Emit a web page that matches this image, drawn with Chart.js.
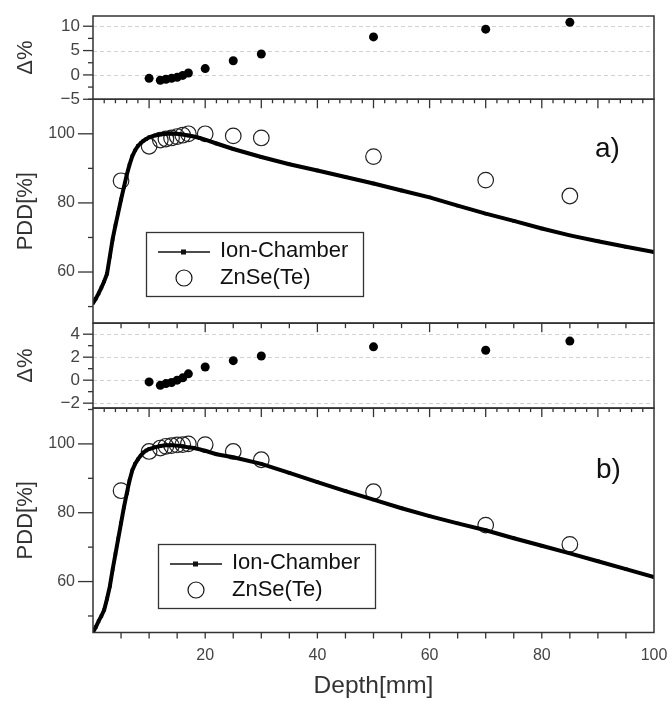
<!DOCTYPE html>
<html>
<head>
<meta charset="utf-8">
<script src="https://cdn.jsdelivr.net/npm/chart.js@4/dist/chart.umd.min.js"></script>
<style>
  html, body { margin: 0; padding: 0; background: #fff; }
  #wrap { position: relative; width: 672px; height: 701px; }
</style>
</head>
<body>
<div id="wrap"><canvas id="pdd"></canvas></div>
<script>
// --- data ---
const seriesNames = ['Ion-Chamber', 'ZnSe(Te)'];
const panelLabels = ['a)', 'b)'];

// ion chamber depth dose curves
const icDepth = [0, 0.5, 1, 1.5, 2, 2.5, 3, 3.5, 4, 4.5, 5, 5.5, 6, 6.5, 7, 7.5, 8, 8.5, 9, 9.5, 10,
                 11, 12, 13, 14, 15, 16, 17, 18, 19, 20,
                 22, 25, 30, 35, 40, 45, 50, 55, 60, 65, 70, 75, 80, 85, 90, 95, 100];
const icA = [51, 52.3, 53.8, 55.5, 57.3, 59.5, 64.5, 69.5, 73.5, 77.2, 81, 84.5, 88, 91, 93.5, 95.2, 96.5, 97.3, 98, 98.5, 99,
             99.5, 99.8, 100, 100.1, 100, 99.8, 99.5, 99.2, 98.8, 98.3,
             97.2, 95.6, 93.3, 91.2, 89.4, 87.5, 85.6, 83.6, 81.6, 79.2, 76.9, 74.8, 72.6, 70.6, 68.9, 67.3, 65.8];
const icB = [45.3, 46.8, 48.5, 50, 51.8, 55, 58.6, 63.5, 68, 72.5, 77, 81.5, 85.5, 89.3, 92.3, 94.2, 95.5, 96.6, 97.5, 98.1, 98.5,
             99, 99.4, 99.6, 99.6, 99.5, 99.3, 99, 98.8, 98.4, 98,
             97, 96.1, 94.2, 91.6, 88.9, 86.3, 83.8, 81.3, 79, 76.9, 74.9, 72.6, 70.4, 68.2, 65.9, 63.6, 61.3];

// ZnSe(Te) detector
const znDepth = [5, 10, 12, 13, 14, 15, 16, 17, 20, 25, 30, 50, 70, 85];
const znA = [86.4, 96.4, 98.2, 98.5, 98.8, 99.2, 99.6, 100, 100, 99.4, 98.8, 93.4, 86.6, 82.0];
const znB = [86.4, 97.8, 98.8, 99.3, 99.5, 99.7, 99.8, 100, 99.8, 97.8, 95.4, 86.1, 76.4, 70.8];

// relative differences
const deltaDepth = [10, 12, 13, 14, 15, 16, 17, 20, 25, 30, 50, 70, 85];
const deltaA = [-0.7, -1.1, -0.9, -0.7, -0.5, -0.1, 0.4, 1.3, 2.9, 4.3, 7.8, 9.4, 10.8];
const deltaB = [-0.15, -0.45, -0.3, -0.2, 0.0, 0.2, 0.55, 1.15, 1.7, 2.1, 2.9, 2.6, 3.4];

// tick labels
const xTicks = [20, 40, 60, 80, 100];
const deltaATicks = [-5, 0, 5, 10];
const deltaBTicks = [-2, 0, 2, 4];
const pddTicks = [60, 80, 100];

const FONT = '"Liberation Sans", Arial, sans-serif';

function pts(xs, ys) {
    return xs.map((x, i) => ({ x: x, y: ys[i] }));
}

function fmt(v) {
    return v < 0 ? '\u2212' + Math.abs(v) : String(v);
}

function yScale(min, max, weight, labels, title, pad, size) {
    return {
        type: 'linear', position: 'left', stack: 'panels', stackWeight: weight,
        min: min, max: max,
        grid: { display: false, drawTicks: false },
        border: { display: false },
        afterBuildTicks: s => { s.ticks = labels.map(v => ({ value: v })); },
        ticks: { autoSkip: false, padding: pad, color: '#444', font: { size: size, family: FONT }, callback: v => fmt(v) },
        title: { display: true, text: title, color: '#333', font: { size: 22, family: FONT }, padding: { top: 13, bottom: 0 } },
        afterFit: s => { s.width = 93; s.paddingTop = 0; s.paddingBottom = 0; }
    };
}

// minor/major tick spec for the frame plugin
const yTickSpec = {
    yDA: { minor: 2.5, major: deltaATicks, len: 10 },
    yPA: { minor: 10, major: pddTicks, len: 15 },
    yDB: { minor: 1, major: deltaBTicks, len: 10 },
    yPB: { minor: 10, major: pddTicks, len: 15 }
};

function drawLegend(ctx, left, top) {
    ctx.save();
    ctx.strokeStyle = '#333';
    ctx.lineWidth = 1.3;
    ctx.strokeRect(left + 0.5, top + 0.5, 217, 64);
    ctx.strokeStyle = '#111';
    ctx.lineWidth = 1.5;
    ctx.beginPath();
    ctx.moveTo(left + 12, top + 20);
    ctx.lineTo(left + 64, top + 20);
    ctx.stroke();
    ctx.fillStyle = '#111';
    ctx.fillRect(left + 35, top + 17.5, 5, 5);
    ctx.lineWidth = 1.2;
    ctx.beginPath();
    ctx.arc(left + 38, top + 46, 8, 0, Math.PI * 2);
    ctx.stroke();
    ctx.font = '22px ' + FONT;
    ctx.textBaseline = 'middle';
    ctx.fillText(seriesNames[0], left + 74, top + 19);
    ctx.fillText(seriesNames[1], left + 74, top + 46);
    ctx.restore();
}

const framePlugin = {
    id: 'frame',
    beforeDatasetsDraw(chart) {
        const ctx = chart.ctx, a = chart.chartArea;
        ctx.save();
        ctx.strokeStyle = '#d2d2d2';
        ctx.lineWidth = 1;
        ctx.setLineDash([4, 3]);
        [['yDA', deltaATicks], ['yDB', deltaBTicks]].forEach(([id, ticks]) => {
            const s = chart.scales[id];
            ticks.forEach(v => {
                const y = Math.round(s.getPixelForValue(v)) + 0.5;
                if (y > s.top + 2 && y < s.bottom - 2) {
                    ctx.beginPath();
                    ctx.moveTo(a.left, y);
                    ctx.lineTo(a.right, y);
                    ctx.stroke();
                }
            });
        });
        ctx.restore();
    },
    afterDatasetsDraw(chart) {
        const ctx = chart.ctx, a = chart.chartArea, xs = chart.scales.x;
        ctx.save();
        ctx.strokeStyle = '#333';
        // panel frames and y ticks
        Object.keys(yTickSpec).forEach(id => {
            const s = chart.scales[id];
            const spec = yTickSpec[id];
            ctx.lineWidth = 1.5;
            ctx.strokeRect(a.left, s.top, a.right - a.left, s.bottom - s.top);
            ctx.lineWidth = 1.3;
            for (let v = Math.ceil(s.min / spec.minor) * spec.minor; v <= s.max + 1e-9; v += spec.minor) {
                const y = s.getPixelForValue(v);
                const len = spec.major.some(m => Math.abs(m - v) < 1e-6) ? spec.len : 5;
                ctx.beginPath();
                ctx.moveTo(a.left, y);
                ctx.lineTo(a.left - len, y);
                ctx.stroke();
            }
        });
        // depth ticks on panel boundaries
        const rows = [
            { y: chart.scales.yPA.top, minor: 2, major: 10, minLen: 4, majLen: 9 },
            { y: chart.scales.yDB.top, minor: 5, major: 20, minLen: 5, majLen: 9 },
            { y: chart.scales.yPB.top, minor: 2, major: 10, minLen: 4, majLen: 9 },
            { y: chart.scales.yPB.bottom, minor: 5, major: 20, minLen: 6, majLen: 6 }
        ];
        ctx.lineWidth = 1.3;
        rows.forEach(r => {
            for (let v = r.minor; v < xs.max; v += r.minor) {
                const x = xs.getPixelForValue(v);
                const len = (v % r.major === 0) ? r.majLen : r.minLen;
                ctx.beginPath();
                ctx.moveTo(x, r.y);
                ctx.lineTo(x, r.y + len);
                ctx.stroke();
            }
        });
        ctx.restore();
    },
    afterDraw(chart) {
        const ctx = chart.ctx;
        drawLegend(ctx, 146, 232);
        drawLegend(ctx, 158, 544);
        ctx.save();
        ctx.fillStyle = '#111';
        ctx.font = '28px ' + FONT;
        ctx.textBaseline = 'alphabetic';
        ctx.fillText(panelLabels[0], 595, 157);
        ctx.fillText(panelLabels[1], 596, 478);
        ctx.restore();
    }
};

const dotStyle = { showLine: false, pointRadius: 4.5, pointBackgroundColor: '#000', pointBorderColor: '#000', pointBorderWidth: 0 };
const circleStyle = { showLine: false, pointRadius: 7.8, pointBackgroundColor: 'rgba(0,0,0,0)', pointBorderColor: '#222', pointBorderWidth: 1.2, order: 2 };
const lineStyle = { showLine: true, borderColor: '#000', borderWidth: 4, tension: 0, pointStyle: 'rect', pointRadius: 2.4, pointBackgroundColor: '#000', pointBorderWidth: 0, order: 1 };

new Chart(document.getElementById('pdd'), {
    type: 'scatter',
    data: {
        datasets: [
            Object.assign({ label: 'Δ% a', data: pts(deltaDepth, deltaA), yAxisID: 'yDA' }, dotStyle),
            Object.assign({ label: seriesNames[0] + ' a', data: pts(icDepth, icA), yAxisID: 'yPA' }, lineStyle),
            Object.assign({ label: seriesNames[1] + ' a', data: pts(znDepth, znA), yAxisID: 'yPA' }, circleStyle),
            Object.assign({ label: 'Δ% b', data: pts(deltaDepth, deltaB), yAxisID: 'yDB' }, dotStyle),
            Object.assign({ label: seriesNames[0] + ' b', data: pts(icDepth, icB), yAxisID: 'yPB' }, lineStyle),
            Object.assign({ label: seriesNames[1] + ' b', data: pts(znDepth, znB), yAxisID: 'yPB' }, circleStyle)
        ]
    },
    options: {
        responsive: true,
        maintainAspectRatio: false,
        animation: false,
        layout: { padding: { top: 16, right: 18, left: 0, bottom: 0 } },
        plugins: { legend: { display: false }, tooltip: { enabled: false } },
        scales: {
            x: {
                type: 'linear', position: 'bottom', min: 0, max: 100,
                grid: { display: false, drawTicks: false },
                border: { display: false },
                afterBuildTicks: s => { s.ticks = xTicks.map(v => ({ value: v })); },
                ticks: { autoSkip: false, maxRotation: 0, padding: 13, color: '#444', font: { size: 16, family: FONT } },
                title: { display: true, text: 'Depth[mm]', color: '#333', font: { size: 24.5, family: FONT }, padding: { top: 0, bottom: 0 } },
                afterFit: s => { s.height = 68.5; s.paddingLeft = 0; s.paddingRight = 0; }
            },
            // stacked panels, listed bottom to top
            yPB: yScale(45.2, 110.4, 224.5, pddTicks, 'PDD[%]', 18, 16),
            yDB: yScale(-2.43, 4.96, 85, deltaBTicks, 'Δ%', 13, 17),
            yPA: yScale(45.2, 110, 224, pddTicks, 'PDD[%]', 18, 16),
            yDA: yScale(-5, 12.1, 83.3, deltaATicks, 'Δ%', 13, 17)
        }
    },
    plugins: [framePlugin]
});
</script>
</body>
</html>
